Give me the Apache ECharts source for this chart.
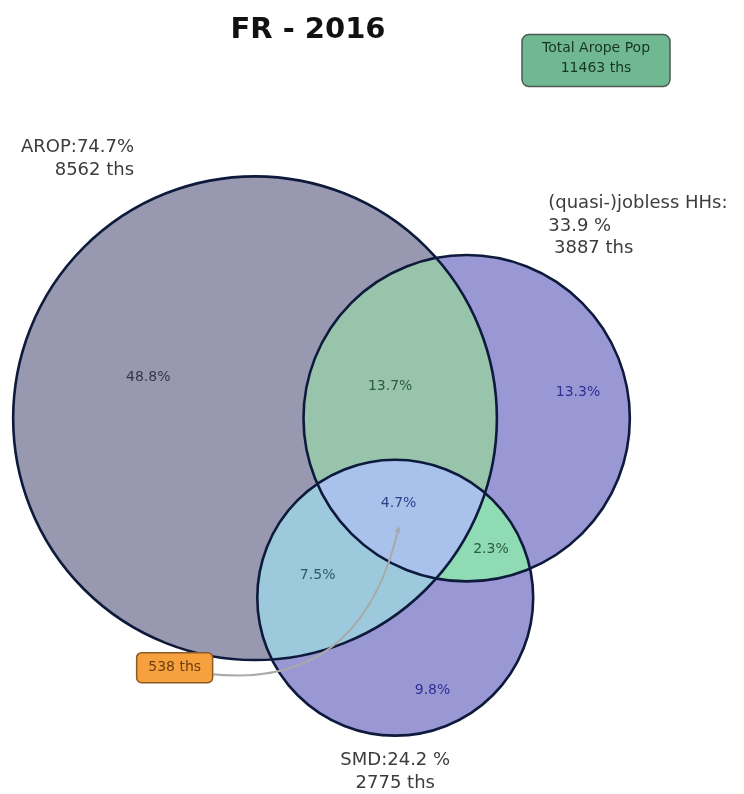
<!DOCTYPE html>
<html>
<head>
<meta charset="utf-8">
<script src="https://cdn.jsdelivr.net/npm/echarts@6/dist/echarts.min.js"></script>
<style>
html,body{margin:0;padding:0;background:#ffffff;}
#main{width:744px;height:794px;}
</style>
</head>
<body>
<div id="main"></div>
<script>
// ---------------- data ----------------
const chartTitle = 'FR - 2016';
// region ids: membership in [AROP, jobless, SMD]
const regionIds = ['100', '010', '110', '001', '101', '011', '111'];
const regionPct = [48.8, 13.3, 13.7, 9.8, 7.5, 2.3, 4.7];
const setNames = ['AROP', '(quasi-)jobless HHs', 'SMD'];
const setPct = [74.7, 33.9, 24.2];
const setThs = [8562, 3887, 2775];
const totalLabel = 'Total Arope Pop';
const totalThs = 11463;
const allThreeThs = 538;

// ---------------- styles ----------------
const FONT = 'DejaVu Sans';
const regionFill = {
  '100': '#9898b0', '010': '#9a98d4', '001': '#9a98d4',
  '110': '#97c4aa', '101': '#9ccadc', '011': '#8fdcb4', '111': '#a8c2ec'
};
const regionTextColor = {
  '100': '#34344e', '010': '#2f2f96', '001': '#2f2f96',
  '110': '#2b5a3c', '101': '#2d5868', '011': '#2b5a3c', '111': '#2e3f88'
};
const outlineColor = '#0e1a3c';
const PX_PER_UNIT = 49.6;          // drawing scale
const LAYOUT_CENTER_PX = [321.5, 456];
const ANNOT_OFFSET_PX = [-224, 140];
const BOTTOM_LABEL_SHIFT_PX = 5;

// ---------------- venn layout (area proportional) ----------------
const pctOf = id => regionPct[regionIds.indexOf(id)];
const setArea = [0, 1, 2].map(k => regionIds.filter(id => id[k] === '1').reduce((s, id) => s + pctOf(id), 0));
const pairArea = (i, j) => regionIds.filter(id => id[i] === '1' && id[j] === '1').reduce((s, id) => s + pctOf(id), 0);
const totalPct = regionPct.reduce((a, b) => a + b, 0);
const R = setArea.map(a => Math.sqrt(a / Math.PI));

function lensArea(r1, r2, d) {
  if (d >= r1 + r2) return 0;
  if (d <= Math.abs(r1 - r2)) { const m = Math.min(r1, r2); return Math.PI * m * m; }
  const a1 = r1 * r1 * Math.acos((d * d + r1 * r1 - r2 * r2) / (2 * d * r1));
  const a2 = r2 * r2 * Math.acos((d * d + r2 * r2 - r1 * r1) / (2 * d * r2));
  const k = 0.5 * Math.sqrt((-d + r1 + r2) * (d + r1 - r2) * (d - r1 + r2) * (d + r1 + r2));
  return a1 + a2 - k;
}
function solveDist(r1, r2, target) {
  let lo = Math.abs(r1 - r2), hi = r1 + r2;
  for (let i = 0; i < 200; i++) {
    const mid = (lo + hi) / 2;
    if (lensArea(r1, r2, mid) > target) lo = mid; else hi = mid;
  }
  return (lo + hi) / 2;
}
const dAB = solveDist(R[0], R[1], pairArea(0, 1));
const dAC = solveDist(R[0], R[2], pairArea(0, 2));
const dBC = solveDist(R[1], R[2], pairArea(1, 2));
const cxC = (dAB * dAB + dAC * dAC - dBC * dBC) / (2 * dAB);
const C = [[0, 0], [dAB, 0], [cxC, -Math.sqrt(Math.max(0, dAC * dAC - cxC * cxC))]];

function intersect(i, j) {
  const [x1, y1] = C[i], [x2, y2] = C[j];
  const dx = x2 - x1, dy = y2 - y1, d = Math.hypot(dx, dy);
  const a = (d * d + R[i] * R[i] - R[j] * R[j]) / (2 * d);
  const h = Math.sqrt(Math.max(0, R[i] * R[i] - a * a));
  const bx = x1 + a * dx / d, by = y1 + a * dy / d;
  return [[bx - h * dy / d, by + h * dx / d], [bx + h * dy / d, by - h * dx / d]];
}
const insideCircle = (p, k) => Math.hypot(p[0] - C[k][0], p[1] - C[k][1]) < R[k];
const V = {};
[[0, 1, 2, 'AB'], [0, 2, 1, 'AC'], [1, 2, 0, 'BC']].forEach(([i, j, k, n]) => {
  const [p, q] = intersect(i, j);
  const pin = insideCircle(p, k);
  V[n + '_in'] = pin ? p : q;
  V[n + '_out'] = pin ? q : p;
});

// region boundaries: [circle, fromVertex, toVertex]
const topology = {
  '100': [[0, 'AB_out', 'AC_out'], [2, 'AC_out', 'BC_in'], [1, 'BC_in', 'AB_out']],
  '010': [[1, 'AB_out', 'BC_out'], [2, 'BC_out', 'AC_in'], [0, 'AC_in', 'AB_out']],
  '001': [[2, 'AC_out', 'BC_out'], [1, 'BC_out', 'AB_in'], [0, 'AB_in', 'AC_out']],
  '110': [[1, 'AB_out', 'BC_in'], [2, 'BC_in', 'AC_in'], [0, 'AC_in', 'AB_out']],
  '101': [[2, 'AC_out', 'BC_in'], [1, 'BC_in', 'AB_in'], [0, 'AB_in', 'AC_out']],
  '011': [[2, 'AC_in', 'BC_out'], [1, 'BC_out', 'AB_in'], [0, 'AB_in', 'AC_in']],
  '111': [[2, 'BC_in', 'AC_in'], [0, 'AC_in', 'AB_in'], [1, 'AB_in', 'BC_in']]
};

function buildArc(k, P, Q, mask) {
  const t0 = Math.atan2(P[1] - C[k][1], P[0] - C[k][0]);
  const t1 = Math.atan2(Q[1] - C[k][1], Q[0] - C[k][0]);
  let ccw = t1 - t0;
  while (ccw <= 0) ccw += 2 * Math.PI;
  while (ccw > 2 * Math.PI) ccw -= 2 * Math.PI;
  let best = null, bestScore = -Infinity;
  [ccw, ccw - 2 * Math.PI].forEach(delta => {
    const tm = t0 + delta / 2;
    const m = [C[k][0] + R[k] * Math.cos(tm), C[k][1] + R[k] * Math.sin(tm)];
    let score = Infinity;
    for (let j = 0; j < 3; j++) {
      if (j === k) continue;
      const dist = Math.hypot(m[0] - C[j][0], m[1] - C[j][1]) - R[j];
      score = Math.min(score, mask[j] === '1' ? -dist : dist);
    }
    if (score > bestScore) { bestScore = score; best = { k, t0, delta, mid: m }; }
  });
  return best;
}

const regionGeom = regionIds.map(id => {
  const arcs = topology[id].map(([k, a, b]) => buildArc(k, V[a], V[b], id));
  const poly = [];
  let wx = 0, wy = 0, ws = 0;
  arcs.forEach(arc => {
    const n = Math.max(8, Math.ceil(Math.abs(arc.delta) / (Math.PI / 360)));
    for (let i = 0; i < n; i++) {
      const t = arc.t0 + arc.delta * i / n;
      poly.push([C[arc.k][0] + R[arc.k] * Math.cos(t), C[arc.k][1] + R[arc.k] * Math.sin(t)]);
    }
    const w = Math.abs(arc.delta);
    wx += arc.mid[0] * w; wy += arc.mid[1] * w; ws += w;
  });
  return { id, poly, label: [wx / ws, wy / ws] };
});

// axis extents so that one unit has the same length on both axes
let bx0 = Infinity, bx1 = -Infinity, by0 = Infinity, by1 = -Infinity;
C.forEach((c, k) => {
  bx0 = Math.min(bx0, c[0] - R[k]); bx1 = Math.max(bx1, c[0] + R[k]);
  by0 = Math.min(by0, c[1] - R[k]); by1 = Math.max(by1, c[1] + R[k]);
});
const bcx = (bx0 + bx1) / 2, bcy = (by0 + by1) / 2;
const W = 744, H = 794;
const xMin = bcx - LAYOUT_CENTER_PX[0] / PX_PER_UNIT, xMax = xMin + W / PX_PER_UNIT;
const yMax = bcy + LAYOUT_CENTER_PX[1] / PX_PER_UNIT, yMin = yMax - H / PX_PER_UNIT;

const setLabelText = [
  `${setNames[0]}:${setPct[0].toFixed(1)}%\n${setThs[0]} ths`,
  `${setNames[1]}:\n${setPct[1].toFixed(1)} %\n ${setThs[1]} ths`,
  `${setNames[2]}:${setPct[2].toFixed(1)} %\n${setThs[2]} ths`
];
const setLabelAnchor = [
  { p: [C[0][0] - R[0] / 2, C[0][1] + R[0]], align: 'right', va: 'bottom' },
  { p: [C[1][0] + R[1] / 2, C[1][1] + R[1]], align: 'left', va: 'bottom' },
  { p: [C[2][0], C[2][1] - 1.1 * R[2]], align: 'center', va: 'top' }
];

// ---------------- chart ----------------
const chart = echarts.init(document.getElementById('main'), null, { renderer: 'canvas' });

function textEl(x, y, text, opts) {
  return {
    type: 'text', x, y, z2: opts.z2 || 10,
    style: {
      text, fill: opts.fill, fontSize: opts.size, fontFamily: FONT, fontWeight: opts.weight || 'normal',
      align: opts.align, verticalAlign: opts.va, textAlign: opts.align, textVerticalAlign: opts.va,
      lineHeight: opts.lh
    }
  };
}

const option = {
  animation: false,
  backgroundColor: '#ffffff',
  grid: { left: 0, top: 0, width: W, height: H, containLabel: false },
  xAxis: { type: 'value', min: xMin, max: xMax, show: false, splitLine: { show: false } },
  yAxis: { type: 'value', min: yMin, max: yMax, show: false, splitLine: { show: false } },
  tooltip: { show: false },
  graphic: {
    elements: [
      textEl(308, 30.5, chartTitle, { fill: '#111111', size: 29, weight: 'bold', align: 'center', va: 'middle' }),
      {
        type: 'rect', shape: { x: 522, y: 34.5, width: 148, height: 52, r: 7 },
        style: { fill: '#6fb891', stroke: '#4d5a52', lineWidth: 1.5 }
      },
      textEl(596, 58.5, totalLabel + '\n' + totalThs + ' ths',
        { fill: '#17361f', size: 14, align: 'center', va: 'middle', lh: 19.5 })
    ]
  },
  series: [
    {
      type: 'custom', name: 'regions', coordinateSystem: 'cartesian2d', z: 1, silent: true,
      data: regionIds.map((id, i) => [i, 0]),
      renderItem: function (params, api) {
        const g = regionGeom[api.value(0)];
        const pts = g.poly.map(p => api.coord(p));
        return {
          type: 'polygon', shape: { points: pts },
          style: { fill: regionFill[g.id], stroke: regionFill[g.id], lineWidth: 0.6 }
        };
      }
    },
    {
      type: 'custom', name: 'outlines', coordinateSystem: 'cartesian2d', z: 2, silent: true,
      data: [[0, 0], [1, 0], [2, 0]],
      renderItem: function (params, api) {
        const k = api.value(0);
        const c = api.coord(C[k]);
        const e = api.coord([C[k][0] + R[k], C[k][1]]);
        return {
          type: 'circle', shape: { cx: c[0], cy: c[1], r: e[0] - c[0] },
          style: { fill: 'none', stroke: outlineColor, lineWidth: 2.6 }
        };
      }
    },
    {
      type: 'custom', name: 'regionLabels', coordinateSystem: 'cartesian2d', z: 3, silent: true,
      data: regionIds.map((id, i) => [i, 0]),
      renderItem: function (params, api) {
        const i = api.value(0);
        const g = regionGeom[i];
        const p = api.coord(g.label);
        return textEl(p[0], p[1], regionPct[i].toFixed(1) + '%',
          { fill: regionTextColor[g.id], size: 14, align: 'center', va: 'middle' });
      }
    },
    {
      type: 'custom', name: 'setLabels', coordinateSystem: 'cartesian2d', z: 3, silent: true,
      data: [[0, 0], [1, 0], [2, 0]],
      renderItem: function (params, api) {
        const k = api.value(0);
        const a = setLabelAnchor[k];
        const p = api.coord(a.p);
        const y = p[1] + (a.va === 'bottom' ? BOTTOM_LABEL_SHIFT_PX : 0);
        return textEl(p[0], y, setLabelText[k],
          { fill: '#3c3c3c', size: 18, align: a.align, va: a.va, lh: 22.5 });
      }
    },
    {
      type: 'custom', name: 'annotation', coordinateSystem: 'cartesian2d', z: 4, silent: true,
      data: [[0, 0]],
      renderItem: function (params, api) {
        const g = regionGeom[regionIds.indexOf('111')];
        const drop = 0.05 * Math.sqrt(totalPct);
        const tip = api.coord([g.label[0], g.label[1] - drop]);
        const box = [tip[0] + ANNOT_OFFSET_PX[0], tip[1] + ANNOT_OFFSET_PX[1]];
        const f = 0.5;
        const mx = (box[0] + tip[0]) / 2, my = (box[1] + tip[1]) / 2;
        const cpx = mx - f * (tip[1] - box[1]), cpy = my + f * (tip[0] - box[0]);
        const dx = tip[0] - cpx, dy = tip[1] - cpy, L = Math.hypot(dx, dy);
        const ux = dx / L, uy = dy / L, hl = 6, ang = 0.45;
        const h1 = [tip[0] - hl * (ux * Math.cos(ang) - uy * Math.sin(ang)), tip[1] - hl * (uy * Math.cos(ang) + ux * Math.sin(ang))];
        const h2 = [tip[0] - hl * (ux * Math.cos(-ang) - uy * Math.sin(-ang)), tip[1] - hl * (uy * Math.cos(-ang) + ux * Math.sin(-ang))];
        return {
          type: 'group',
          children: [
            {
              type: 'bezierCurve',
              shape: { x1: box[0], y1: box[1], x2: tip[0], y2: tip[1], cpx1: cpx, cpy1: cpy },
              style: { fill: 'none', stroke: '#a9a9a9', lineWidth: 2 }
            },
            { type: 'polyline', shape: { points: [h1, tip, h2] }, style: { fill: 'none', stroke: '#a9a9a9', lineWidth: 1.5 } },
            {
              type: 'rect', z2: 20,
              shape: { x: box[0] - 38, y: box[1] - 15, width: 76, height: 30, r: 5 },
              style: { fill: '#f6a13e', stroke: '#8c5a25', lineWidth: 1.5 }
            },
            textEl(box[0], box[1], allThreeThs + ' ths', { fill: '#6b3e10', size: 14, align: 'center', va: 'middle', z2: 30 })
          ]
        };
      }
    }
  ]
};
chart.setOption(option);
</script>
</body>
</html>
